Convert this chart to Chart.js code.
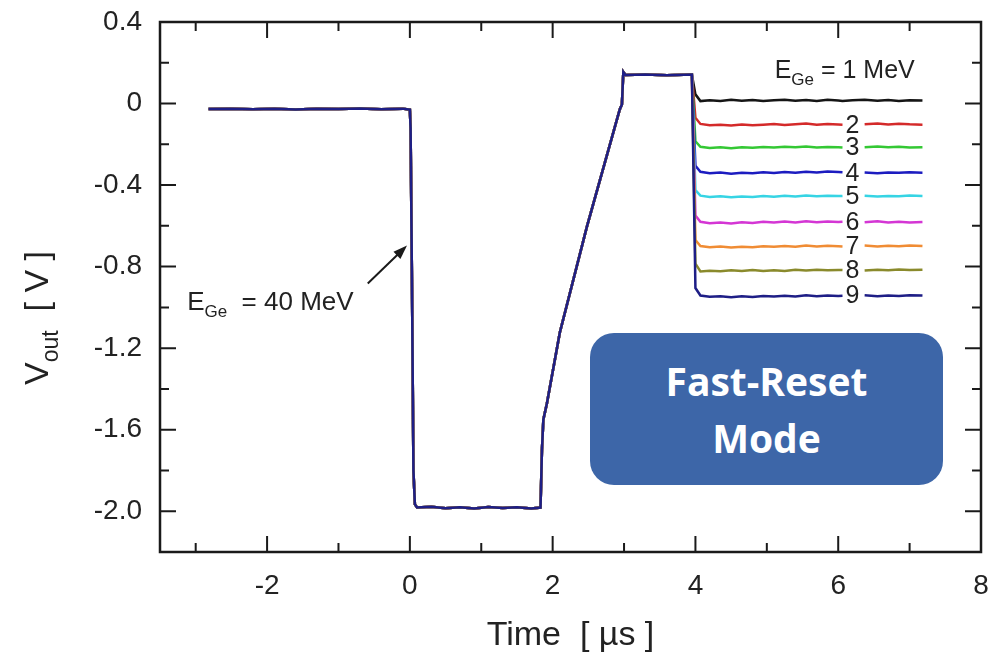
<!DOCTYPE html>
<html>
<head>
<meta charset="utf-8">
<script src="https://cdn.jsdelivr.net/npm/chart.js@4.4.1/dist/chart.umd.min.js"></script>
<style>
  body { margin: 0; background: #fff; }
  #wrap { position: relative; width: 993px; height: 655px; }
  #modeBox {
    position: absolute; left: 590px; top: 333px; width: 353px; height: 152px;
    background: #3d66a8; border-radius: 24px; color: #fff;
    font: bold 39px 'Open Sans', sans-serif; line-height: 57px; text-align: center;
    display: flex; flex-direction: column; justify-content: center;
  }
</style>
</head>
<body>
<div id="wrap">
  <canvas id="resetChart"></canvas>
  <div id="modeBox"><div>Fast-Reset</div><div>Mode</div></div>
</div>
<script>
// shared part of the pulse (all energies overlap here), time in µs, volts in V
const baseTime = [-2.82, -2.5, -2.2, -1.9, -1.6, -1.3, -1.0, -0.7, -0.4, -0.1, 0.0, 0.01, 0.03, 0.05, 0.07, 0.1,
  0.3, 0.5, 0.7, 0.9, 1.1, 1.3, 1.5, 1.7, 1.83, 1.85, 1.87, 1.92, 2.1, 2.48, 2.94, 2.97, 2.99, 3.02, 3.3, 3.6, 3.95];
const baseVolts = [-0.027, -0.025, -0.028, -0.026, -0.029, -0.025, -0.027, -0.024, -0.028, -0.025, -0.03, -0.12, -0.9, -1.8, -1.965, -1.982,
  -1.978, -1.985, -1.98, -1.986, -1.979, -1.984, -1.981, -1.986, -1.982, -1.7, -1.55, -1.47, -1.124, -0.604, -0.029, -0.005, 0.155, 0.14, 0.143, 0.139, 0.142];

// after the fast reset: one trace per energy, gap (null) where the energy label sits
const tailTime = [4.0, 4.07, 4.2, 4.35, 4.5, 4.65, 4.8, 4.95, 5.1, 5.25, 5.4, 5.55, 5.7, 5.85, 6.0, 6.06,
  6.2, 6.37, 6.55, 6.7, 6.85, 7.0, 7.18];
const energyLabels = ['1', '2', '3', '4', '5', '6', '7', '8', '9'];
const tail1 = [0.045, 0.012, 0.016, 0.013, 0.018, 0.014, 0.017, 0.012, 0.016, 0.019, 0.014, 0.017, 0.013, 0.018, 0.015, 0.012, 0.016, 0.019, 0.014, 0.017, 0.013, 0.016, 0.015];
const tail2 = [-0.07, -0.1, -0.106, -0.104, -0.108, -0.103, -0.107, -0.104, -0.101, -0.105, -0.102, -0.098, -0.104, -0.1, -0.103, -0.104, null, -0.101, -0.098, -0.103, -0.099, -0.102, -0.104];
const tail3 = [-0.185, -0.212, -0.218, -0.215, -0.219, -0.214, -0.217, -0.213, -0.216, -0.212, -0.215, -0.211, -0.216, -0.213, -0.215, -0.216, null, -0.214, -0.211, -0.215, -0.212, -0.216, -0.214];
const tail4 = [-0.305, -0.335, -0.342, -0.338, -0.344, -0.339, -0.342, -0.337, -0.341, -0.336, -0.34, -0.335, -0.338, -0.333, -0.336, -0.337, null, -0.338, -0.342, -0.338, -0.34, -0.337, -0.339];
const tail5 = [-0.425, -0.452, -0.459, -0.455, -0.46, -0.456, -0.458, -0.453, -0.457, -0.452, -0.456, -0.451, -0.455, -0.452, -0.454, -0.453, null, -0.452, -0.456, -0.453, -0.455, -0.451, -0.453];
const tail6 = [-0.55, -0.58, -0.587, -0.583, -0.588, -0.582, -0.586, -0.58, -0.584, -0.579, -0.583, -0.578, -0.582, -0.579, -0.581, -0.58, null, -0.582, -0.578, -0.583, -0.58, -0.584, -0.581];
const tail7 = [-0.67, -0.699, -0.705, -0.701, -0.706, -0.702, -0.705, -0.7, -0.703, -0.699, -0.702, -0.697, -0.701, -0.698, -0.7, -0.701, null, -0.697, -0.701, -0.698, -0.7, -0.696, -0.699];
const tail8 = [-0.785, -0.824, -0.82, -0.823, -0.818, -0.822, -0.817, -0.821, -0.818, -0.822, -0.816, -0.819, -0.815, -0.818, -0.816, -0.817, null, -0.819, -0.815, -0.818, -0.814, -0.817, -0.815];
const tail9 = [-0.905, -0.942, -0.948, -0.945, -0.95, -0.946, -0.949, -0.944, -0.947, -0.943, -0.946, -0.941, -0.945, -0.942, -0.944, -0.943, null, -0.941, -0.945, -0.942, -0.944, -0.94, -0.942];
const tails = [tail1, tail2, tail3, tail4, tail5, tail6, tail7, tail8, tail9];

const xTickLabels = ['-2', '0', '2', '4', '6', '8'];
const yTickLabels = ['0.4', '0', '-0.4', '-0.8', '-1.2', '-1.6', '-2.0'];

const traceColors = ['#151515', '#d42a2a', '#34c834', '#1c1cc0', '#36d4e4', '#d436d4', '#f08c34', '#8a8a2c', '#1e1e86'];

function pts(ts, vs) {
  return ts.map((t, i) => ({ x: t, y: vs[i] }));
}

const datasets = tails.map((tail, i) => ({
  label: 'E = ' + energyLabels[i] + ' MeV',
  data: pts(baseTime, baseVolts).concat(pts(tailTime, tail)),
  borderColor: traceColors[i],
  borderWidth: 2.5,
  pointRadius: 0,
  tension: 0,
  spanGaps: false,
  order: tails.length - i
}));

function labelFor(v, list) {
  const hit = list.find(s => Math.abs(parseFloat(s) - v) < 1e-6);
  return hit === undefined ? '' : hit;
}

const FONT = "'Liberation Sans', Arial, sans-serif";

function subText(ctx, x, y, main, sub, rest, size, subSize) {
  ctx.font = size + 'px ' + FONT;
  ctx.fillText(main, x, y);
  x += ctx.measureText(main).width;
  ctx.font = subSize + 'px ' + FONT;
  ctx.fillText(sub, x, y + size * 0.28);
  x += ctx.measureText(sub).width;
  ctx.font = size + 'px ' + FONT;
  ctx.fillText(rest, x, y);
}

const framePlugin = {
  id: 'frame',
  afterDraw(chart) {
    const { ctx, chartArea: a, scales: { x, y } } = chart;
    ctx.save();
    ctx.strokeStyle = '#1a1a1a';
    ctx.fillStyle = '#1a1a1a';
    ctx.lineWidth = 2;
    ctx.beginPath();
    x.ticks.forEach(t => {
      const px = x.getPixelForValue(t.value);
      if (px <= a.left + 1 || px >= a.right - 1) return;
      const len = labelFor(t.value, xTickLabels) ? 16 : 9;
      ctx.moveTo(px, a.bottom); ctx.lineTo(px, a.bottom - len);
      ctx.moveTo(px, a.top); ctx.lineTo(px, a.top + len);
    });
    y.ticks.forEach(t => {
      const py = y.getPixelForValue(t.value);
      if (py <= a.top + 1 || py >= a.bottom - 1) return;
      const len = labelFor(t.value, yTickLabels) ? 16 : 9;
      ctx.moveTo(a.left, py); ctx.lineTo(a.left + len, py);
      ctx.moveTo(a.right, py); ctx.lineTo(a.right - len, py);
    });
    ctx.stroke();
    ctx.lineWidth = 2.5;
    ctx.strokeRect(a.left, a.top, a.right - a.left, a.bottom - a.top);

    // axis titles
    ctx.fillStyle = '#222';
    ctx.textBaseline = 'alphabetic';
    ctx.textAlign = 'center';
    ctx.font = '34px ' + FONT;
    ctx.fillText('Time  [ µs ]', (a.left + a.right) / 2, 645);
    ctx.save();
    ctx.translate(48, 385);
    ctx.rotate(-Math.PI / 2);
    ctx.textAlign = 'left';
    subText(ctx, 0, 0, 'V', 'out', '  [ V ]', 34, 23);
    ctx.restore();

    // energy annotations
    ctx.textAlign = 'left';
    subText(ctx, x.getPixelForValue(5.11), y.getPixelForValue(0.123), 'E', 'Ge', ' = 1 MeV', 25, 17);
    subText(ctx, x.getPixelForValue(-3.12), y.getPixelForValue(-1.011), 'E', 'Ge', '  = 40 MeV', 26, 17);
    ctx.font = '25px ' + FONT;
    ctx.textAlign = 'center';
    ctx.textBaseline = 'middle';
    const gapIdx = tail2.indexOf(null);
    for (let i = 1; i < tails.length; i++) {
      ctx.fillText(energyLabels[i], x.getPixelForValue(tailTime[gapIdx]), y.getPixelForValue(tails[i][tails[i].length - 1]) + 1);
    }

    // arrow pointing at the 40 MeV edge
    const x0 = x.getPixelForValue(-0.59), y0 = y.getPixelForValue(-0.883);
    const x1 = x.getPixelForValue(-0.04), y1 = y.getPixelForValue(-0.697);
    const ang = Math.atan2(y1 - y0, x1 - x0);
    ctx.strokeStyle = '#1a1a1a';
    ctx.fillStyle = '#1a1a1a';
    ctx.lineWidth = 2;
    ctx.beginPath();
    ctx.moveTo(x0, y0);
    ctx.lineTo(x1 - 10 * Math.cos(ang), y1 - 10 * Math.sin(ang));
    ctx.stroke();
    ctx.beginPath();
    ctx.moveTo(x1, y1);
    ctx.lineTo(x1 - 14 * Math.cos(ang) + 5 * Math.sin(ang), y1 - 14 * Math.sin(ang) - 5 * Math.cos(ang));
    ctx.lineTo(x1 - 14 * Math.cos(ang) - 5 * Math.sin(ang), y1 - 14 * Math.sin(ang) + 5 * Math.cos(ang));
    ctx.closePath();
    ctx.fill();
    ctx.restore();
  }
};

new Chart(document.getElementById('resetChart').getContext('2d'), {
  type: 'line',
  data: { datasets: datasets },
  options: {
    responsive: true,
    maintainAspectRatio: false,
    animation: false,
    layout: { padding: { left: 0, top: 22, right: 12, bottom: 0 } },
    plugins: { legend: { display: false }, tooltip: { enabled: false } },
    scales: {
      x: {
        type: 'linear',
        min: -3.5,
        max: 8,
        grid: { display: false, drawTicks: false },
        border: { display: false },
        ticks: {
          stepSize: 1,
          includeBounds: false,
          autoSkip: false,
          maxRotation: 0,
          padding: 17,
          color: '#222',
          font: { family: FONT, size: 28 },
          callback: v => labelFor(v, xTickLabels)
        },
        afterFit: s => { s.height = 103; s.paddingLeft = 0; s.paddingRight = 0; }
      },
      y: {
        type: 'linear',
        min: -2.2,
        max: 0.4,
        grid: { display: false, drawTicks: false },
        border: { display: false },
        ticks: {
          stepSize: 0.2,
          autoSkip: false,
          padding: 18,
          color: '#222',
          font: { family: FONT, size: 28 },
          callback: v => labelFor(v, yTickLabels)
        },
        afterFit: s => { s.width = 160; s.paddingTop = 0; s.paddingBottom = 0; }
      }
    }
  },
  plugins: [framePlugin]
});
</script>
</body>
</html>
